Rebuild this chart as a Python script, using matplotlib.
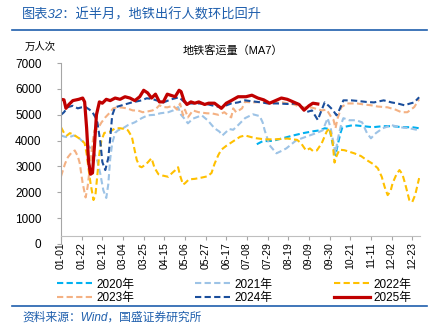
import matplotlib
matplotlib.use("Agg")
import matplotlib.pyplot as plt
from matplotlib.lines import Line2D

plt.rcParams['font.family'] = ['Liberation Sans', 'Noto Sans CJK SC']

# day-of-year positions (0 = 01-01) and MA7 ridership, 万人次
d2020 = [199, 205, 215, 225, 236, 246, 256, 263, 268, 273, 276, 279, 281, 284, 286, 297, 307, 317, 327, 337, 347, 357, 364]
v2020 = [3860, 3980, 3990, 4090, 4200, 4290, 4360, 4400, 4480, 4450, 3900, 3440, 3800, 4290, 4520, 4600, 4560, 4520, 4560, 4560, 4520, 4520, 4480]

d2021 = [0, 4, 8, 13, 17, 21, 25, 29, 33, 37, 40, 43, 46, 48, 50, 52, 55, 58, 63, 68, 75, 82, 88, 95, 101, 109,
         114, 119, 122, 125, 129, 134, 143, 149, 156, 161, 164, 171, 175, 180, 187, 195, 202, 205, 207, 212, 219,
         224, 229, 239, 249, 260, 266, 271, 274, 276, 279, 281, 285, 287, 293, 300, 306, 311, 315, 320, 327, 336,
         344, 354, 364]
v2021 = [4200, 4150, 4130, 4200, 4150, 4000, 3900, 3750, 3600, 3200, 2700, 2080, 1780, 2300, 3300, 3900, 4300, 4400,
         4480, 4600, 4710, 4870, 4980, 5000, 5060, 5100, 5170, 5300, 5000, 4870, 4670, 4850, 4980, 4790, 4480, 4350,
         4200, 4450, 4420, 4600, 4870, 5020, 4950, 4700, 4400, 3820, 3510, 3600, 3700, 4010, 4150, 4300, 4400, 4870,
         4500, 4100, 3510, 4000, 4670, 4870, 4790, 4790, 4710, 4290, 4090, 4290, 4480, 4600, 4520, 4480, 4400]

d2022 = [0, 3, 6, 9, 12, 16, 20, 24, 26, 28, 30, 33, 35, 37, 39, 41, 44, 50, 55, 60, 65, 68, 72, 75, 77, 80, 82, 85,
         88, 92, 95, 99, 103, 109, 113, 116, 119, 121, 124, 126, 130, 136, 143, 149, 153, 156, 160, 163, 168, 176,
         182, 187, 192, 197, 207, 217, 230, 240, 244, 249, 253, 256, 260, 265, 270, 273, 276, 278, 280, 283, 288,
         298, 305, 311, 317, 322, 326, 329, 332, 335, 337, 341, 344, 347, 350, 354, 357, 360, 364]
v2022 = [4520, 4300, 4200, 4290, 4250, 4150, 4050, 3900, 3500, 2900, 2350, 1700, 1900, 2700, 3500, 4000, 4300, 4350,
         4480, 4480, 4450, 4400, 4150, 3600, 3250, 3000, 2970, 3050, 3150, 3320, 2950, 2700, 2650, 2600, 2750, 2850,
         2970, 2650, 2300, 2350, 2500, 2520, 2570, 2620, 2750, 3100, 3450, 3650, 3800, 4000, 4150, 4200, 4150, 4100,
         4050, 4050, 4080, 4030, 3900, 3620, 3700, 3600, 3620, 3900, 4350, 4480, 3950, 3150, 3400, 3650, 3630, 3510,
         3400, 3240, 3100, 2930, 2600, 2200, 1890, 2050, 2350, 2700, 2860, 2700, 2300, 1700, 1620, 1900, 2550]

d2023 = [0, 1, 4, 7, 11, 14, 17, 19, 22, 25, 27, 29, 32, 34, 38, 41, 45, 50, 53, 57, 62, 67, 73, 78, 83, 88, 93, 97,
         100, 104, 108, 114, 118, 121, 124, 126, 129, 134, 140, 148, 154, 160, 166, 170, 173, 175, 178, 184, 187,
         195, 205, 215, 225, 237, 244, 255, 265, 270, 274, 277, 279, 281, 285, 291, 301, 308, 315, 322, 332, 340,
         346, 352, 359, 364]
v2023 = [2620, 2740, 3100, 3360, 3550, 3620, 3400, 3130, 2350, 1800, 2200, 2860, 3900, 4400, 4500, 4700, 4900, 5100,
         5250, 5290, 5280, 5250, 5170, 5170, 5100, 5130, 5170, 5250, 5370, 5300, 5290, 5350, 5200, 5440, 4980, 5200,
         4900, 5170, 5100, 5060, 5050, 5000, 5100, 4980, 4900, 5250, 5100, 5250, 5500, 5480, 5500, 5460, 5480, 5400,
         5290, 5280, 5170, 5200, 4950, 4800, 4480, 4850, 5300, 5440, 5440, 5400, 5370, 5320, 5290, 5200, 5100, 5100,
         5300, 5600]

d2024 = [0, 3, 7, 12, 17, 21, 25, 29, 32, 35, 37, 40, 42, 45, 48, 50, 52, 55, 62, 72, 82, 87, 92, 97, 104, 112,
         120, 127, 134, 140, 148, 153, 163, 173, 180, 187, 195, 204, 210, 220, 230, 240, 245, 249, 255, 261, 264,
         268, 272, 276, 280, 283, 287, 295, 301, 310, 318, 328, 336, 342, 349, 355, 359, 364]
v2024 = [5000, 5100, 5300, 5350, 5250, 5290, 5300, 5200, 5100, 4900, 4700, 3940, 3170, 2860, 3320, 4090, 4980, 5290,
         5370, 5480, 5560, 5640, 5620, 5560, 5480, 5600, 5680, 5440, 5440, 5440, 5420, 5370, 5290, 5440, 5480, 5560,
         5520, 5480, 5440, 5440, 5420, 5440, 5300, 5100, 5170, 4800, 5100, 5480, 5350, 5200, 4980, 5200, 5560, 5560,
         5540, 5500, 5480, 5560, 5480, 5440, 5370, 5440, 5480, 5680]

d2025 = [0, 3, 5, 8, 12, 18, 22, 24, 26, 28, 30, 32, 34, 36, 39, 42, 46, 50, 55, 60, 65, 70, 75, 80, 84, 88, 92,
         96, 100, 104, 108, 112, 116, 120, 122, 125, 128, 132, 136, 140, 146, 150, 156, 163, 168, 173, 180, 188,
         194, 200, 206, 212, 218, 224, 230, 236, 242, 247, 252, 256, 261]
v2025 = [5600, 5580, 5250, 5400, 5550, 5600, 5650, 5500, 4500, 3200, 2700, 2750, 3800, 5000, 5500, 5450, 5600, 5550,
         5650, 5600, 5700, 5650, 5550, 5700, 5950, 5850, 5650, 5800, 5500, 5500, 5800, 5750, 5700, 5950, 5900, 5550,
         5400, 5500, 5450, 5500, 5400, 5450, 5450, 5250, 5450, 5550, 5700, 5700, 5760, 5650, 5580, 5450, 5550, 5650,
         5600, 5500, 5400, 5180, 5350, 5450, 5420]

tick_days = list(range(0, 358, 21))
tick_labels = ['01-01', '01-22', '02-12', '03-04', '03-25', '04-15', '05-06', '05-27', '06-17',
               '07-08', '07-29', '08-19', '09-09', '09-30', '10-21', '11-11', '12-02', '12-23']

series = [
    ('2020年', d2020, v2020, '#00B0F0', 'dash'),
    ('2021年', d2021, v2021, '#9DC3E6', 'dash'),
    ('2022年', d2022, v2022, '#FFC000', 'dash'),
    ('2023年', d2023, v2023, '#F4B183', 'dash'),
    ('2024年', d2024, v2024, '#1A4E9C', 'dash'),
    ('2025年', d2025, v2025, '#C00000', 'solid'),
]

blue = '#1F5FAD'
fig = plt.figure(figsize=(4.39, 3.36), dpi=100)
ax = fig.add_axes([0.139, 0.274, 0.818, 0.538])

handles = {}
for name, d, v, color, style in series:
    if style == 'solid':
        ln, = ax.plot(d, v, color=color, lw=2.3, solid_joinstyle='round')
    else:
        ln, = ax.plot(d, v, color=color, lw=1.5, linestyle=(0, (3, 1.6)))
    handles[name] = ln

ax.set_xlim(0, 365)
ax.set_ylim(0, 7000)
ax.set_yticks(range(0, 7001, 1000))
ax.set_xticks(tick_days)
ax.set_xticklabels(tick_labels)
ax.tick_params(axis='y', labelsize=8.5, length=3, color='#A6A6A6', pad=11)
ax.tick_params(axis='x', labelsize=7.6, labelrotation=90, length=3, color='#A6A6A6', pad=1.5)

for s in ['top', 'right']:
    ax.spines[s].set_visible(False)
ax.spines['left'].set_color('#A6A6A6')
ax.spines['bottom'].set_color('#BFBFBF')
ax.spines['bottom'].set_position(('data', 310))

order = ['2020年', '2023年', '2021年', '2024年', '2022年', '2025年']
fig.legend([handles[k] for k in order], order, ncol=3, mode='expand', frameon=False,
           fontsize=8.5, handlelength=3.1, handletextpad=0.25, labelspacing=0.1,
           bbox_to_anchor=(0.118, 0.082, 0.83, 0.1), loc='lower left', borderaxespad=0)

# header / footer
fig.text(0.05, 0.955, '图表32：近半月，地铁出行人数环比回升', fontsize=9.5, color=blue,
         style='italic', va='center')
fig.add_artist(Line2D([0.028, 0.972], [0.91, 0.91], color=blue, lw=1.2))
fig.text(0.057, 0.86, '万人次', fontsize=7.5, va='center')
fig.text(0.53, 0.851, '地铁客运量（MA7）', fontsize=8, va='center', ha='center')
fig.add_artist(Line2D([0.028, 0.972], [0.09, 0.09], color=blue, lw=1.2))
fig.text(0.05, 0.056, '资料来源：Wind，国盛证券研究所', fontsize=8.5, color=blue,
         style='italic', va='center')

fig.savefig('out.png', dpi=100)
